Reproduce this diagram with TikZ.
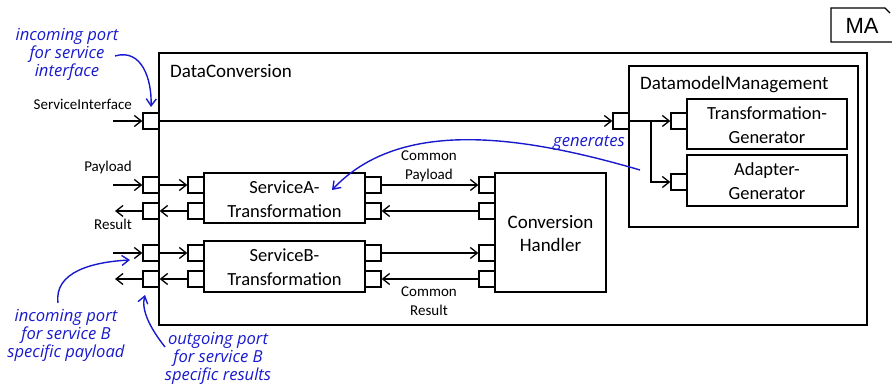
\documentclass[tikz,border=0pt]{standalone}
\usepackage{fontspec}
\setmainfont{Carlito}
\newfontfamily\handfont{Open Sans}
\newfontfamily\mafont{Liberation Sans}
\usetikzlibrary{arrows.meta}
\definecolor{annblue}{RGB}{25,25,205}
\tikzset{
  box/.style={draw, line width=1.3pt, inner sep=0pt, fill=white},
  port/.style={draw, line width=1.3pt, fill=white, minimum size=16pt, inner sep=0pt},
  conn/.style={line width=1.3pt, -{Straight Barb[length=7pt,width=11pt,line width=1.3pt]}},
  ann/.style={annblue, line width=1.4pt, -{Straight Barb[length=7pt,width=10pt,line width=1.4pt]}},
  anntext/.style={text=annblue, font=\handfont\itshape\fontsize{16.6}{18}\selectfont, align=center, inner sep=0pt},
  lbl/.style={font=\fontsize{15}{19}\selectfont, inner sep=0pt, align=center},
  boxtext/.style={font=\fontsize{18.5}{24}\selectfont, align=center, inner sep=0pt}
}
\begin{document}
\begin{tikzpicture}[x=1pt,y=-1pt]
\useasboundingbox (0,0) rectangle (892,387);
% MA box
\draw[line width=1.3pt] (890,13) -- (885,8) -- (831,8) -- (831,42) -- (895,42);
\node[font=\mafont\fontsize{22}{26}\selectfont, inner sep=0pt] (ma) at (862,26) {MA};
% main box
\node[box, minimum width=708pt, minimum height=272pt] (dc) at (513,189) {};
\node[font=\fontsize{19}{23}\selectfont, anchor=west, inner sep=0pt] (dctitle) at (170,71) {DataConversion};
% DatamodelManagement
\node[box, minimum width=229pt, minimum height=161pt] (dm) at (743.5,146.5) {};
\node[font=\fontsize{19}{23}\selectfont, anchor=west, inner sep=0pt] (dmtitle) at (640,85) {DatamodelManagement};
\node[box, minimum width=160pt, minimum height=50pt] (tg) at (767,124) {};
\node[boxtext] (tgt) at (767,125) {Transformation-\\Generator};
\node[box, minimum width=160pt, minimum height=51pt] (ag) at (767,180.5) {};
\node[boxtext] (agt) at (767,181) {Adapter-\\Generator};
% Service boxes
\node[box, minimum width=161pt, minimum height=50pt] (sa) at (284.5,198) {};
\node[boxtext] (sat) at (284.5,199) {ServiceA-\\Transformation};
\node[box, minimum width=161pt, minimum height=51pt] (sb) at (284.5,266.5) {};
\node[boxtext] (sbt) at (284.5,267) {ServiceB-\\Transformation};
% Conversion handler
\node[box, minimum width=111pt, minimum height=119pt] (ch) at (550.5,232.5) {};
\node[boxtext, font=\fontsize{19}{23}\selectfont] (cht) at (550.5,233.5) {Conversion\\Handler};
% ports outer
\node[port] (pSI) at (151,121) {};
\node[port] (pPay) at (151,185) {};
\node[port] (pRes) at (151,211) {};
\node[port] (pBin) at (151,253) {};
\node[port] (pBout) at (151,279) {};
% service ports
\node[port] (saI) at (196,185) {};
\node[port] (saO) at (196,211) {};
\node[port] (sbI) at (196,253) {};
\node[port] (sbO) at (196,279) {};
\node[port] (saR1) at (373,185) {};
\node[port] (saR2) at (373,211) {};
\node[port] (sbR1) at (373,253) {};
\node[port] (sbR2) at (373,279) {};
% CH ports
\node[port] (ch1) at (487,185) {};
\node[port] (ch2) at (487,211) {};
\node[port] (ch3) at (487,253) {};
\node[port] (ch4) at (487,279) {};
% DM ports
\node[port] (dmP) at (621,121) {};
\node[port] (tgP) at (679,121) {};
\node[port] (agP) at (679,182) {};
% external ends
\coordinate (eSI) at (113,121);
\coordinate (ePay) at (113,185);
\coordinate (eRes) at (115,211);
\coordinate (eBin) at (113,253);
\coordinate (eBout) at (115,279);
\coordinate (br) at (651,121);
\coordinate (brd) at (651,182);
% labels
\node[lbl, anchor=east] (lSI) at (132,104) {ServiceInterface};
\node[lbl, anchor=east] (lPay) at (132,168) {Payload};
\node[lbl, anchor=east] (lRes) at (132,224) {Result};
\node[lbl] (lCP) at (429,166) {Common\\Payload};
\node[lbl] (lCR) at (429,301) {Common\\Result};
% connectors
\draw[conn] (eSI) -- (pSI.west);
\draw[conn] (ePay) -- (pPay.west);
\draw[conn] (pRes.west) -- (eRes);
\draw[conn] (eBin) -- (pBin.west);
\draw[conn] (pBout.west) -- (eBout);
\draw[conn] (pPay.east) -- (saI.west);
\draw[conn] (saO.west) -- (pRes.east);
\draw[conn] (pBin.east) -- (sbI.west);
\draw[conn] (sbO.west) -- (pBout.east);
\draw[conn] (saR1.east) -- (ch1.west);
\draw[conn] (ch2.west) -- (saR2.east);
\draw[conn] (sbR1.east) -- (ch3.west);
\draw[conn] (ch4.west) -- (sbR2.east);
\draw[conn] (pSI.east) -- (dmP.west);
\draw[conn] (dmP.east) -- (tgP.west);
\draw[conn] (br) -- (brd) -- (agP.west);
% annotations
\node[anntext] (a1) at (67,54) {incoming port\\for service\\interface};
\node[anntext] (a2) at (66,335) {incoming port\\for service B\\specific payload};
\node[anntext] (a3) at (218,358) {outgoing port\\for service B\\specific results};
\node[text=annblue, font=\handfont\itshape\fontsize{16.6}{18}\selectfont, inner sep=0pt] (gen) at (589,143) {generates};
\coordinate (a1s) at (115,56);
\coordinate (a1e) at (151,107);
\coordinate (a2s) at (58,303);
\coordinate (a2e) at (130,260);
\coordinate (a3s) at (165,347);
\coordinate (a3e) at (145,295);
\coordinate (gs) at (640,170);
\coordinate (ge) at (332,190);
\draw[ann] (a1s) .. controls (142,48) and (152,80) .. (a1e);
\draw[ann] (a2s) .. controls (54,272) and (92,262) .. (a2e);
\draw[ann] (a3s) .. controls (150,328) and (141,310) .. (a3e);
\draw[ann] (gs) .. controls (520,135) and (400,118) .. (ge);
\end{tikzpicture}
\end{document}
